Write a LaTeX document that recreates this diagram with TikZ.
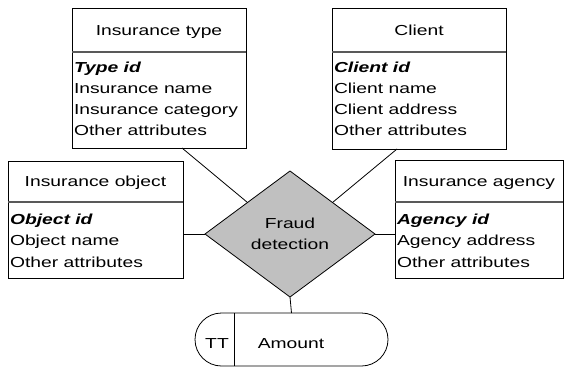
\documentclass[tikz,border=0pt]{standalone}
\usepackage{fontspec}
\setmainfont{Liberation Sans}[FakeStretch=1.33]
\usetikzlibrary{shapes.geometric,shapes.misc,calc}
\definecolor{diafill}{RGB}{192,192,192}
\begin{document}
\begin{tikzpicture}[x=1pt,y=-1pt,
  every node/.style={font=\fontsize{14.5}{21.5}\selectfont, inner sep=0pt, outer sep=0pt},
  ebox/.style={draw=black, line width=0.9pt, anchor=north west},
  sepline/.style={draw=black!65, line width=1.2pt},
  link/.style={draw=black, line width=0.8pt},
  title/.style={anchor=base},
  attr/.style={anchor=base west},
  key/.style={anchor=base west, font=\fontsize{14.5}{21.5}\selectfont\bfseries\itshape}]
\useasboundingbox (0,0) rectangle (565,367);

% Insurance type
\node[ebox, minimum width=174, minimum height=140] (type) at (72,8) {};
\draw[sepline] ($(type.north west)+(0,44)$) -- ($(type.north east)+(0,44)$);
\node[title] (type-t) at ($(type.north)+(0,27)$) {Insurance type};
\node[key]  (type-a1) at ($(type.north west)+(2,64)$) {Type id};
\node[attr] (type-a2) at ($(type.north west)+(2,85)$) {Insurance name};
\node[attr] (type-a3) at ($(type.north west)+(2,106)$) {Insurance category};
\node[attr] (type-a4) at ($(type.north west)+(2,127)$) {Other attributes};

% Client
\node[ebox, minimum width=174, minimum height=141] (client) at (332,8) {};
\draw[sepline] ($(client.north west)+(0,44)$) -- ($(client.north east)+(0,44)$);
\node[title] (client-t) at ($(client.north)+(0,27)$) {Client};
\node[key]  (client-a1) at ($(client.north west)+(2,64)$) {Client id};
\node[attr] (client-a2) at ($(client.north west)+(2,85)$) {Client name};
\node[attr] (client-a3) at ($(client.north west)+(2,106)$) {Client address};
\node[attr] (client-a4) at ($(client.north west)+(2,127)$) {Other attributes};

% Insurance object
\node[ebox, minimum width=175, minimum height=117] (object) at (8,161) {};
\draw[sepline] ($(object.north west)+(0,41)$) -- ($(object.north east)+(0,41)$);
\node[title] (object-t) at ($(object.north)+(0,25.5)$) {Insurance object};
\node[key]  (object-a1) at ($(object.north west)+(2,63)$) {Object id};
\node[attr] (object-a2) at ($(object.north west)+(2,84.5)$) {Object name};
\node[attr] (object-a3) at ($(object.north west)+(2,106)$) {Other attributes};

% Insurance agency
\node[ebox, minimum width=168, minimum height=118] (agency) at (395,160) {};
\draw[sepline] ($(agency.north west)+(0,42)$) -- ($(agency.north east)+(0,42)$);
\node[title] (agency-t) at ($(agency.north)+(0,26)$) {Insurance agency};
\node[key]  (agency-a1) at ($(agency.north west)+(2,64)$) {Agency id};
\node[attr] (agency-a2) at ($(agency.north west)+(2,85.5)$) {Agency address};
\node[attr] (agency-a3) at ($(agency.north west)+(2,107)$) {Other attributes};

% Relationship
\node[diamond, draw=black, fill=diafill, line width=0.8pt, minimum width=170, minimum height=126] (fraud) at (290,234) {};
\node[align=center] (fraud-t) at (290,234) {Fraud\\detection};

% Attribute Amount
\node[rounded rectangle, draw=black, line width=0.8pt, minimum width=193, minimum height=53] (amount) at (291.5,339.5) {};
\draw[link] ($(amount.north)+(-57.5,0)$) -- ($(amount.south)+(-57.5,0)$);
\node[anchor=base] (tt) at (217,348) {TT};
\node[anchor=base] (amt) at (291,348) {Amount};

% Connectors
\draw[link] ($(type.south west)+(110,0)$) -- ($(fraud.west)!0.5!(fraud.north)$);
\draw[link] ($(client.south west)+(65,0)$) -- ($(fraud.east)!0.5!(fraud.north)$);
\draw[link] (object.east |- fraud.west) -- (fraud.west);
\draw[link] (fraud.east) -- (agency.west |- fraud.east);
\draw[link] (fraud.south) -- (amount.north);
\end{tikzpicture}
\end{document}
